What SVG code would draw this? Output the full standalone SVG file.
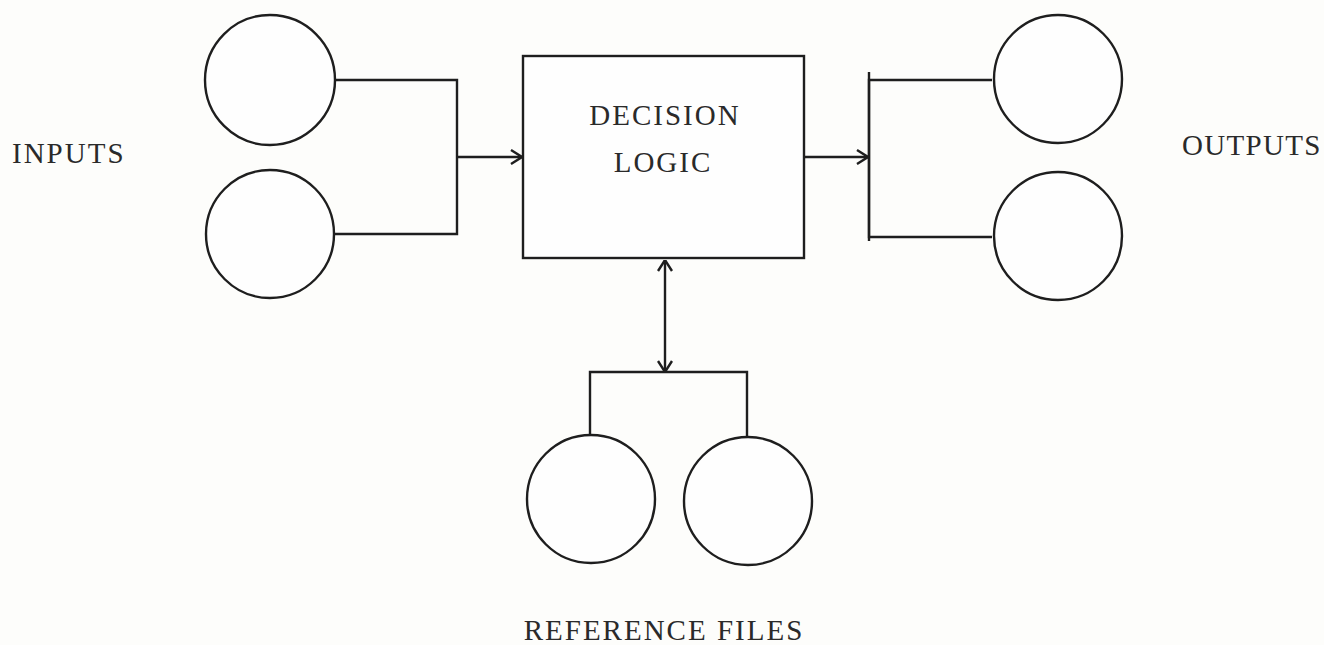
<svg xmlns="http://www.w3.org/2000/svg" width="1324" height="645" viewBox="0 0 1324 645">
<style>
.s{fill:none;stroke:#1e1e1e;stroke-width:2.4}
.n{fill:#fefefe;stroke:#1e1e1e;stroke-width:2.4}
.t{font-family:"Liberation Serif",serif;font-size:29px;fill:#2a2a2a;letter-spacing:2px}
</style>
<defs>
<marker id="ah" viewBox="0 0 12 16" refX="12" refY="8" markerWidth="12" markerHeight="16" markerUnits="userSpaceOnUse" orient="auto-start-reverse">
<path d="M1,1 L12,8 L1,15" fill="none" stroke="#1e1e1e" stroke-width="2.4"/>
</marker>
</defs>
<rect width="1324" height="645" fill="#fdfdfb"/>
<g id="connectors">
<polyline class="s" points="335,80 457,80 457,234 335,234"/>
<line class="s" x1="457" y1="157" x2="522" y2="157" marker-end="url(#ah)"/>
<line class="s" x1="804" y1="157" x2="868" y2="157" marker-end="url(#ah)"/>
<polyline class="s" points="992,80 869,80 869,237 992,237"/>
<line class="s" x1="869" y1="72" x2="869" y2="241"/>
<line class="s" x1="665" y1="260" x2="665" y2="372" marker-start="url(#ah)" marker-end="url(#ah)"/>
<polyline class="s" points="590,436 590,372 747,372 747,437"/>
</g>
<g id="input1"><circle class="n" cx="270" cy="80" r="65"/></g>
<g id="input2"><circle class="n" cx="270" cy="234" r="64"/></g>
<g id="output1"><circle class="n" cx="1058" cy="79" r="64"/></g>
<g id="output2"><circle class="n" cx="1058" cy="236" r="64"/></g>
<g id="ref1"><circle class="n" cx="591" cy="499" r="64"/></g>
<g id="ref2"><circle class="n" cx="748" cy="501" r="64"/></g>
<g id="decision">
<rect class="n" x="523" y="56" width="281" height="202"/>
<text class="t" x="665" y="125" text-anchor="middle">DECISION</text>
<text class="t" x="663" y="172" text-anchor="middle">LOGIC</text>
</g>
<g id="labels">
<text class="t" x="12" y="163">INPUTS</text>
<text class="t" x="1182" y="155" style="letter-spacing:1.3px">OUTPUTS</text>
<text class="t" x="664" y="640" text-anchor="middle">REFERENCE FILES</text>
</g>
</svg>
